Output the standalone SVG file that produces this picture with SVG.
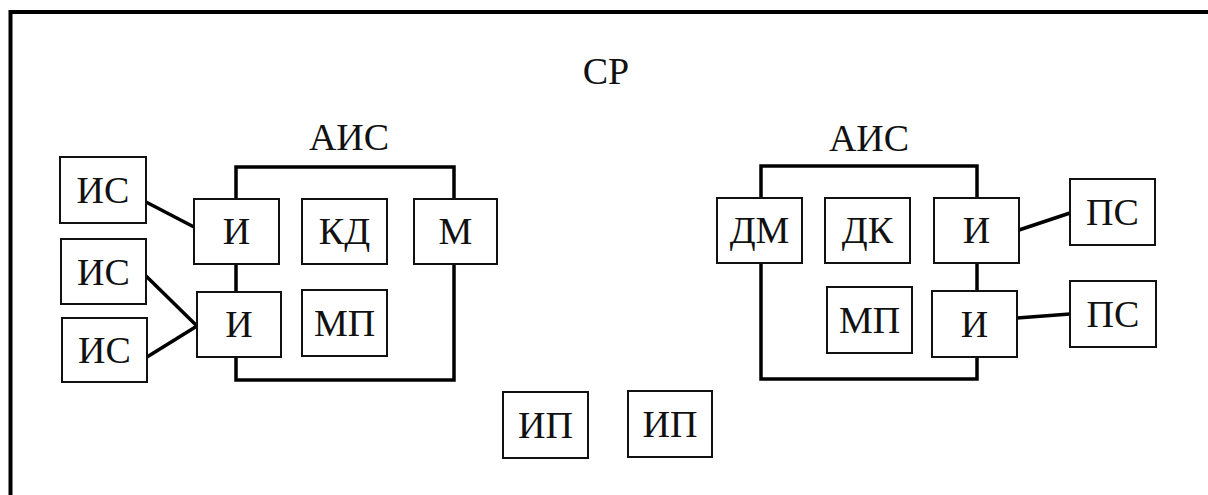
<svg xmlns="http://www.w3.org/2000/svg" width="1208" height="495" viewBox="0 0 1208 495">
<style>
.box{fill:#fff;stroke:#111;stroke-width:2}
.frame{fill:none;stroke:#000;stroke-width:3.5}
.line{fill:none;stroke:#000;stroke-width:3.5}
text{font-family:"Liberation Serif","Times New Roman",serif;font-size:38px;fill:#111;text-anchor:middle}
.big{font-size:38px}
</style>
<rect width="1208" height="495" fill="#fff"/>
<g id="sr">
<path d="M10.5,520 V12 H1230" fill="none" stroke="#000" stroke-width="4"/>
<text class="big" x="606" y="84">СР</text>
</g>
<g id="ais1">
<rect class="frame" x="236" y="167" width="218" height="213"/>
<text class="big" x="349" y="150">АИС</text>
</g>
<g id="ais2">
<rect class="frame" x="761" y="166" width="216" height="213"/>
<text class="big" x="869" y="151">АИС</text>
</g>
<g id="connectors">
<line class="line" x1="146" y1="202" x2="194" y2="227"/>
<line class="line" x1="146" y1="276" x2="197" y2="326"/>
<line class="line" x1="147" y1="357" x2="197" y2="326"/>
<line class="line" x1="1019" y1="230" x2="1070" y2="213"/>
<line class="line" x1="1017" y1="318" x2="1070" y2="314"/>
</g>
<g id="is1"><rect class="box" x="60" y="157" width="86" height="66"/><text x="103" y="203">ИС</text></g>
<g id="is2"><rect class="box" x="61" y="239" width="85" height="65"/><text x="103.5" y="285">ИС</text></g>
<g id="is3"><rect class="box" x="62" y="318" width="85" height="64"/><text x="104.5" y="363">ИС</text></g>
<g id="i1"><rect class="box" x="194" y="199" width="85" height="65"/><text x="236.5" y="244">И</text></g>
<g id="kd"><rect class="box" x="302" y="199" width="85" height="65"/><text x="344.5" y="244">КД</text></g>
<g id="m"><rect class="box" x="414" y="199" width="83" height="65"/><text x="455.5" y="244">М</text></g>
<g id="i2"><rect class="box" x="197" y="292" width="84" height="65"/><text x="239" y="337">И</text></g>
<g id="mp1"><rect class="box" x="302" y="290" width="85" height="66"/><text x="344.5" y="336">МП</text></g>
<g id="dm"><rect class="box" x="717" y="198" width="85" height="65"/><text x="759.5" y="243">ДМ</text></g>
<g id="dk"><rect class="box" x="825" y="198" width="85" height="65"/><text x="867.5" y="243">ДК</text></g>
<g id="i3"><rect class="box" x="934" y="198" width="85" height="65"/><text x="976.5" y="243">И</text></g>
<g id="mp2"><rect class="box" x="827" y="287" width="85" height="66"/><text x="869.5" y="333">МП</text></g>
<g id="i4"><rect class="box" x="932" y="291" width="85" height="66"/><text x="974.5" y="337">И</text></g>
<g id="ps1"><rect class="box" x="1070" y="179" width="85" height="66"/><text x="1112.5" y="225">ПС</text></g>
<g id="ps2"><rect class="box" x="1070" y="281" width="86" height="66"/><text x="1113" y="327">ПС</text></g>
<g id="ip1"><rect class="box" x="503" y="392" width="85" height="66"/><text x="545.5" y="438">ИП</text></g>
<g id="ip2"><rect class="box" x="628" y="391" width="84" height="66"/><text x="670" y="437">ИП</text></g>
</svg>
